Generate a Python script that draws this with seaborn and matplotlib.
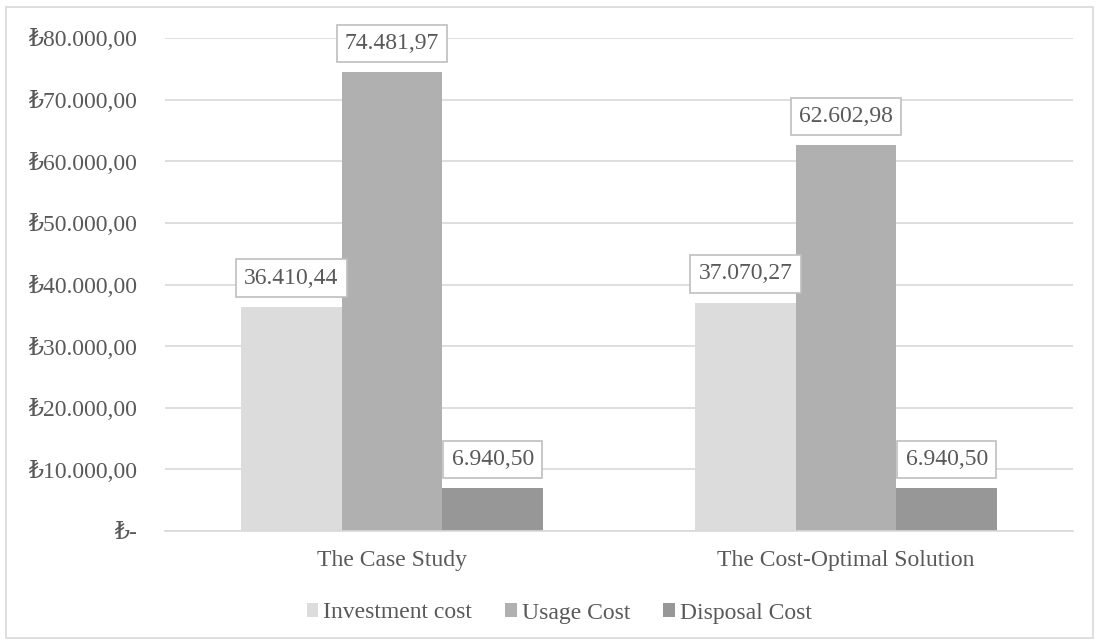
import matplotlib
matplotlib.use("Agg")
import matplotlib.pyplot as plt
import seaborn as sns
import pandas as pd
from matplotlib.ticker import FuncFormatter
from matplotlib.patches import Rectangle

categories = ["The Case Study", "The Cost-Optimal Solution"]
series = ["Investment cost", "Usage Cost", "Disposal Cost"]
investment = [36410.44, 37070.27]
usage = [74481.97, 62602.98]
disposal = [6940.50, 6940.50]
colors = ["#dcdcdc", "#b0b0b0", "#979797"]
yticks = [0, 10000, 20000, 30000, 40000, 50000, 60000, 70000, 80000]

rows = []
for s, vals in zip(series, [investment, usage, disposal]):
    for c, v in zip(categories, vals):
        rows.append({"scenario": c, "type": s, "cost": v})
df = pd.DataFrame(rows)

sns.set_theme(style="white")
plt.rcParams["font.family"] = ["Liberation Serif", "DejaVu Serif"]

TXT = "#595959"
GRID = "#d9d9d9"
FS = 17

fig = plt.figure(figsize=(10.99, 6.44), dpi=100)
ax = fig.add_axes([165/1099, 1-531/644, (1073-165)/1099, (531-38)/644])

sns.barplot(data=df, x="scenario", y="cost", hue="type", order=categories,
            hue_order=series, palette=colors, width=0.665, saturation=1,
            gap=0, ax=ax, legend=False, errorbar=None, linewidth=0)

def tr(v, decimals=2):
    s = f"{v:,.{decimals}f}"
    return s.replace(",", "X").replace(".", ",").replace("X", ".")

def ytick_fmt(v, pos):
    if abs(v) < 1e-9:
        return "₺-"
    return "₺" + tr(v)

ax.set_ylim(0, 80000)
ax.set_xlim(-0.5, 1.5)
ax.set_yticks(yticks)
ax.yaxis.set_major_formatter(FuncFormatter(ytick_fmt))
ax.grid(axis="y", color=GRID, linewidth=1.2)
ax.set_axisbelow(True)
for side in ["top", "right", "left"]:
    ax.spines[side].set_visible(False)
ax.spines["bottom"].set_color(GRID)
ax.spines["bottom"].set_linewidth(1.2)
ax.tick_params(axis="y", length=0, pad=20, labelsize=FS, labelcolor=TXT)
ax.tick_params(axis="x", length=0, pad=14, labelsize=FS, labelcolor=TXT)
ax.set_xlabel("")
ax.set_ylabel("")

for cont in ax.containers:
    labels = [tr(b.get_height()) for b in cont]
    ax.bar_label(cont, labels=labels, padding=13, fontsize=FS, color=TXT,
                 bbox=dict(boxstyle="square,pad=0.35", fc="white", ec="#bfbfbf", lw=1.2))

handles = [Rectangle((0, 0), 1, 1, fc=c, ec="none") for c in colors]
fig.legend(handles, series, loc="center", bbox_to_anchor=(559/1099, 1-613/644),
           ncol=3, frameon=False, fontsize=FS, labelcolor=TXT,
           handlelength=0.5, handleheight=0.5, handletextpad=0.2, columnspacing=1.4)

fig.add_artist(Rectangle((6/1099, 6/644), 1087/1099, 631/644, transform=fig.transFigure,
                         fill=False, ec=GRID, lw=1.2))

fig.savefig("out.png", dpi=100, facecolor="white")
